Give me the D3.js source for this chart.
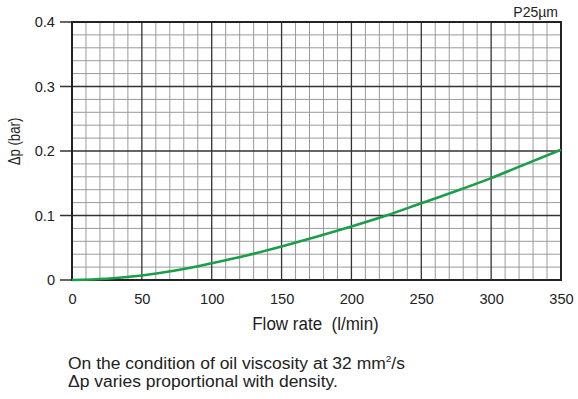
<!DOCTYPE html>
<html><head><meta charset="utf-8">
<script src="https://cdn.jsdelivr.net/npm/d3@7"></script>
<style>body{margin:0;background:#fff}svg{display:block}text{font-family:"Liberation Sans",Arial,sans-serif;fill:#222;white-space:pre}</style>
</head><body>
<script>
const flow = [0,25,50,75,100,125,150,175,200,225,250,275,300,325,350];
const dp   = [0,0.002,0.007,0.015,0.026,0.038,0.052,0.067,0.083,0.100,0.119,0.138,0.158,0.180,0.202];
const xTicks = [0,50,100,150,200,250,300,350];
const yTicks = [0,0.1,0.2,0.3,0.4];
const xLabel = "Flow rate  (l/min)";
const yLabel = "Δp (bar)";
const tag = "P25µm";
const note1 = "On the condition of oil viscosity at 32 mm";
const note2 = "Δp varies proportional with density.";

const W=578,H=399;
const svg=d3.select("body").append("svg").attr("width",W).attr("height",H);
const x=d3.scaleLinear().domain([0,350]).range([72,561]);
const y=d3.scaleLinear().domain([0,0.4]).range([280,22]);

const g=svg.append("g");
// minor grid
d3.range(0,351,10).forEach(v=>{ if(v%50) g.append("line").attr("x1",x(v)).attr("x2",x(v)).attr("y1",y(0)).attr("y2",y(0.4)).attr("stroke","#9a9a9a").attr("stroke-width",1);});
d3.range(0,21,1).forEach(i=>{ if(i%5){const v=i*0.02; g.append("line").attr("x1",x(0)).attr("x2",x(350)).attr("y1",y(v)).attr("y2",y(v)).attr("stroke","#9a9a9a").attr("stroke-width",1);}});
// major grid
xTicks.forEach(v=>g.append("line").attr("x1",x(v)).attr("x2",x(v)).attr("y1",y(0)).attr("y2",y(0.4)).attr("stroke","#333").attr("stroke-width",1.3));
yTicks.forEach(v=>g.append("line").attr("x1",60).attr("x2",x(350)).attr("y1",y(v)).attr("y2",y(v)).attr("stroke","#333").attr("stroke-width",1.3));
// frame
g.append("rect").attr("x",x(0)).attr("y",y(0.4)).attr("width",x(350)-x(0)).attr("height",y(0)-y(0.4)).attr("fill","none").attr("stroke","#222").attr("stroke-width",2);

const tf="Liberation Sans, Arial, sans-serif";
const ax=svg.append("g").attr("transform",`translate(0,${y(0)})`).call(d3.axisBottom(x).tickValues(xTicks).tickSize(0).tickPadding(13.5).tickFormat(d3.format("d")));
ax.select(".domain").remove();
ax.selectAll("text").attr("font-size",14.6).style("font-family",tf).attr("fill","#222");
const ay=svg.append("g").attr("transform",`translate(60,0)`).call(d3.axisLeft(y).tickValues(yTicks).tickSize(0).tickPadding(5).tickFormat(d=>d===0?"0":d3.format(".1f")(d)));
ay.select(".domain").remove();
ay.selectAll("text").attr("font-size",14.6).style("font-family",tf).attr("fill","#222");

// curve
svg.append("path").datum(flow.map((f,i)=>[f,dp[i]]))
 .attr("d",d3.line().x(d=>x(d[0])).y(d=>y(d[1])).curve(d3.curveMonotoneX))
 .attr("fill","none").attr("stroke","#1a9e48").attr("stroke-width",2.6);

svg.append("text").attr("transform","translate(315.5,330) scale(1,1.05)").attr("text-anchor","middle").attr("font-size",17).text(xLabel);
svg.append("text").attr("transform","translate(20,141.5) rotate(-90) scale(1,1.3)").attr("text-anchor","middle").attr("font-size",13.2).text(yLabel);
svg.append("text").attr("x",558).attr("y",17).attr("text-anchor","end").attr("font-size",14).text(tag);
const t1=svg.append("text").attr("transform","translate(68,369) scale(1,0.94)").attr("font-size",17.5).text(note1);
t1.append("tspan").attr("font-size",10).attr("dy",-7).text("2");
t1.append("tspan").attr("dy",7).text("/s");
svg.append("text").attr("transform","translate(68,387) scale(1,0.94)").attr("font-size",17.5).text(note2);
</script>
</body></html>
